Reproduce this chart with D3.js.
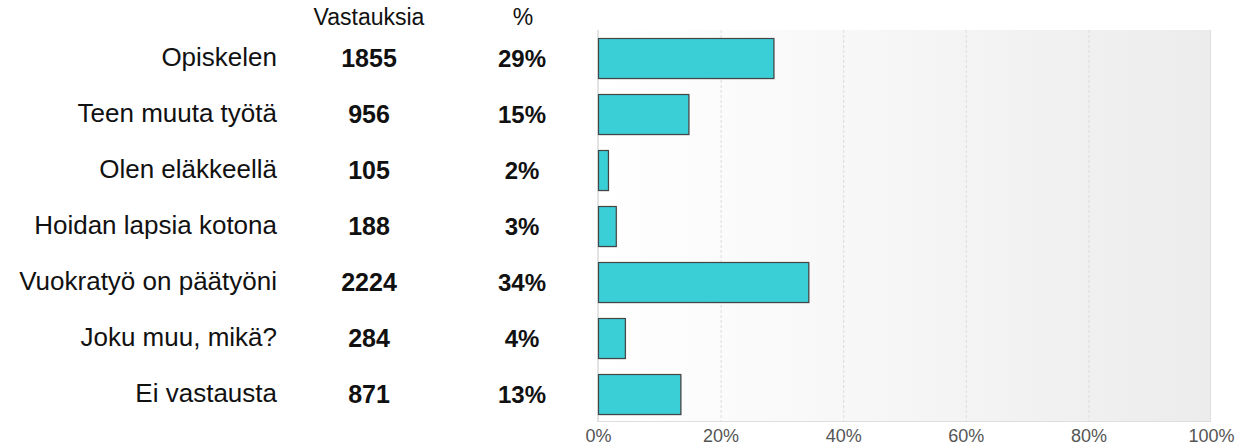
<!DOCTYPE html>
<html>
<head>
<meta charset="utf-8">
<script src="https://cdnjs.cloudflare.com/ajax/libs/d3/7.8.5/d3.min.js"></script>
<style>
  body { margin: 0; background: #fff; }
  svg { display: block; font-family: "Liberation Sans", Arial, sans-serif; }
</style>
</head>
<body>
<svg width="1235" height="446"></svg>
<script>
var categories = ["Opiskelen", "Teen muuta työtä", "Olen eläkkeellä", "Hoidan lapsia kotona",
                  "Vuokratyö on päätyöni", "Joku muu, mikä?", "Ei vastausta"];
var counts = [1855, 956, 105, 188, 2224, 284, 871];
var percents = [29, 15, 2, 3, 34, 4, 13];
var ticks = [0, 20, 40, 60, 80, 100];
var headers = ["Vastauksia", "%"];

var svg = d3.select("svg"),
    width = +svg.attr("width"),
    height = +svg.attr("height");

var total = d3.sum(counts);

var x = d3.scaleLinear().domain([0, 100]).range([598, 1211]);
var y = d3.scaleBand()
    .domain(categories)
    .range([30, 422])
    .paddingInner(16 / 56)
    .paddingOuter(8 / 56);

// background gradient
var defs = svg.append("defs");
var grad = defs.append("linearGradient")
    .attr("id", "bg")
    .attr("x1", "0%").attr("x2", "100%")
    .attr("y1", "0%").attr("y2", "0%");
grad.append("stop").attr("offset", "0%").attr("stop-color", "#ffffff");
grad.append("stop").attr("offset", "100%").attr("stop-color", "#ececec");

svg.append("rect")
    .attr("x", x(0))
    .attr("y", 30)
    .attr("width", x(100) - x(0))
    .attr("height", 422 - 30)
    .attr("fill", "url(#bg)");

// grid lines
svg.append("g")
  .selectAll("line")
  .data(ticks.slice(1, -1))
  .enter().append("line")
    .attr("x1", function(d) { return x(d) + 0.5; })
    .attr("x2", function(d) { return x(d) + 0.5; })
    .attr("y1", 30)
    .attr("y2", 422)
    .attr("stroke", "#dcdcdc")
    .attr("stroke-dasharray", "3,2");

// frame lines
svg.append("line")
    .attr("x1", x(0)).attr("x2", x(0))
    .attr("y1", 30).attr("y2", 422)
    .attr("stroke", "#e2e2e2").attr("stroke-width", 2);
svg.append("line")
    .attr("x1", x(100) - 0.5).attr("x2", x(100) - 0.5)
    .attr("y1", 30).attr("y2", 422)
    .attr("stroke", "#dedede");
svg.append("line")
    .attr("x1", x(0)).attr("x2", x(100))
    .attr("y1", 421.5).attr("y2", 421.5)
    .attr("stroke", "#dedede");

// x axis labels
var xAxis = d3.axisBottom(x)
    .tickValues(ticks)
    .tickSize(0)
    .tickPadding(0)
    .tickFormat(function(d) { return d + "%"; });

var ax = svg.append("g")
    .attr("transform", "translate(0,428)")
    .call(xAxis);
ax.select(".domain").remove();
ax.selectAll("text")
    .attr("dy", null)
    .attr("y", 14)
    .attr("fill", "#555")
    .style("font-size", "18px")
    .style("font-family", "'Liberation Sans', Arial, sans-serif");

// bars
var rows = svg.append("g")
  .selectAll("g")
  .data(categories)
  .enter().append("g");

rows.append("rect")
    .attr("x", x(0) + 1.5)
    .attr("y", function(d) { return y(d) + 1.5; })
    .attr("width", function(d, i) { return x(counts[i] / total * 100) - x(0); })
    .attr("height", y.bandwidth())
    .attr("fill", "#000")
    .attr("opacity", 0.12);

rows.append("rect")
    .attr("x", x(0) + 0.5)
    .attr("y", function(d) { return y(d) + 0.5; })
    .attr("width", function(d, i) { return x(counts[i] / total * 100) - x(0); })
    .attr("height", y.bandwidth())
    .attr("fill", "#3acfd7")
    .attr("stroke", "#444")
    .attr("stroke-width", 1.2);

// labels
rows.append("text")
    .attr("x", 277)
    .attr("y", function(d) { return y(d) + y.bandwidth() / 2 + 8; })
    .attr("text-anchor", "end")
    .style("font-size", "26px")
    .attr("fill", "#111")
    .text(function(d) { return d; });

rows.append("text")
    .attr("x", 369)
    .attr("y", function(d) { return y(d) + y.bandwidth() / 2 + 9; })
    .attr("text-anchor", "middle")
    .style("font-size", "25px")
    .style("font-weight", "bold")
    .attr("fill", "#111")
    .text(function(d, i) { return counts[i]; });

rows.append("text")
    .attr("x", 522)
    .attr("y", function(d) { return y(d) + y.bandwidth() / 2 + 9; })
    .attr("text-anchor", "middle")
    .style("font-size", "24px")
    .style("font-weight", "bold")
    .attr("fill", "#111")
    .text(function(d, i) { return percents[i] + "%"; });

// column headers
svg.append("g")
  .selectAll("text")
  .data(headers)
  .enter().append("text")
    .attr("x", function(d, i) { return i == 0 ? 369 : 523; })
    .attr("y", 25)
    .attr("text-anchor", "middle")
    .style("font-size", "23px")
    .attr("fill", "#111")
    .text(function(d) { return d; });
</script>
</body>
</html>
